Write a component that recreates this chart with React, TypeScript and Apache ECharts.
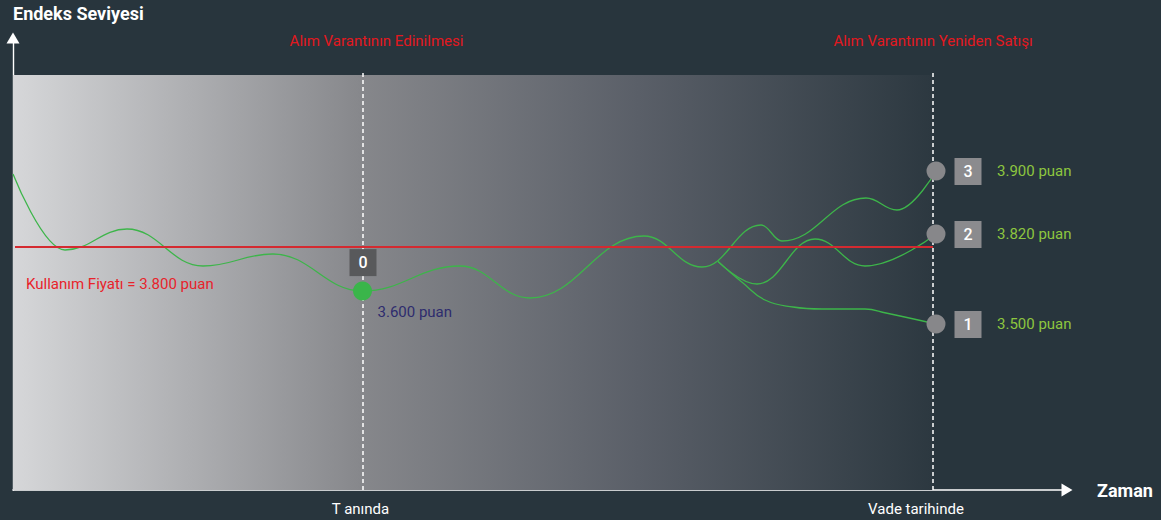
import React, { useEffect, useRef } from "react";
import * as echarts from "echarts";

// ---- data (schematic units: time along x, index level along y) ----
const timeMax = 1054;
const levelMax = 452;

// simulated index path up to scenario 3 (peaks and troughs)
const pathTime = [0, 52, 114, 190, 260, 349.5, 447, 517, 631, 689, 748, 769, 853, 884, 923];
const pathLevel = [316, 240, 261, 224, 236, 199, 224, 192, 254, 223, 265, 249, 292, 280, 319];

// scenario 2 branch
const scen2Time = [705, 744, 802, 852, 923];
const scen2Level = [228.6, 206, 251, 224, 256];

// scenario 1 branch
const scen1Time = [705, 730, 752, 780, 809, 852, 873, 923];
const scen1Level = [228.6, 207, 190, 183, 181, 181, 177, 166];

// purchase point
const startTime = 349.5;
const startLevel = 199;
const startNumber = "0";
const startValueLabel = "3.600 puan";

// resale points (scenario 3, 2, 1)
const endTime = [923, 923, 923];
const endLevel = [319, 256, 166];
const endNumbers = ["3", "2", "1"];
const endValueLabels = ["3.900 puan", "3.820 puan", "3.500 puan"];

// strike
const strikeLevel = 243;
const strikeLabel = "Kullanım Fiyatı = 3.800 puan";

// events
const eventTimes = [349.5, 920];
const eventTopLabels = ["Alım Varantının Edinilmesi", "Alım Varantının Yeniden Satışı"];
const eventBottomLabels = ["T anında", "Vade tarihinde"];

const areaTop = 415;

const BG = "#28353d";
const GREEN = "#3db54a";
const LIME = "#8dc63f";
const RED = "#e3181f";
const SANS = "Roboto, 'Noto Sans', sans-serif";

export default function App() {
  const ref = useRef<HTMLDivElement>(null);
  useEffect(() => {
    document.body.style.margin = "0";
    document.body.style.background = BG;
    const chart = echarts.init(ref.current!, null, { renderer: "svg" });

    const lineSeries = (name: string, t: number[], v: number[], monotone: boolean) => ({
      name,
      type: "line",
      data: t.map((x, i) => [x, v[i]]),
      smooth: monotone ? 0.42 : 0.45,
      smoothMonotone: monotone ? "x" : undefined,
      showSymbol: false,
      symbol: "none",
      silent: true,
      lineStyle: { color: GREEN, width: 1.3 },
      z: 3,
    });

    const option = {
      animation: false,
      backgroundColor: BG,
      grid: { left: 13, right: 94, top: 38, bottom: 30 },
      xAxis: {
        type: "value",
        min: 0,
        max: timeMax,
        name: "Zaman",
        nameLocation: "end",
        nameGap: 30,
        nameTextStyle: {
          color: "#ffffff",
          fontWeight: "bold",
          fontSize: 18,
          fontFamily: SANS,
          align: "left",
          verticalAlign: "middle",
        },
        axisLine: {
          show: true,
          onZero: false,
          symbol: ["none", "triangle"],
          symbolSize: [13, 11],
          lineStyle: { color: "#ffffff", width: 1.6 },
        },
        axisTick: { show: false },
        axisLabel: { show: false },
        splitLine: { show: false },
      },
      yAxis: {
        type: "value",
        min: 0,
        max: levelMax,
        name: "Endeks Seviyesi",
        nameLocation: "end",
        nameGap: 25,
        nameTextStyle: {
          color: "#ffffff",
          fontWeight: "bold",
          fontSize: 18,
          fontFamily: SANS,
          align: "left",
          verticalAlign: "middle",
        },
        axisLine: {
          show: true,
          onZero: false,
          symbol: ["none", "triangle"],
          symbolSize: [13, 11],
          lineStyle: { color: "#ffffff", width: 1.4 },
        },
        axisTick: { show: false },
        axisLabel: { show: false },
        splitLine: { show: false },
      },
      graphic: [
        ...eventTopLabels.map((txt, i) => ({
          type: "text",
          z: 20,
          x: [376.5, 933][i],
          y: 41,
          style: {
            text: txt,
            fill: RED,
            font: `15px ${SANS}`,
            align: "center",
            verticalAlign: "middle",
          },
        })),
        ...eventBottomLabels.map((txt, i) => ({
          type: "text",
          z: 20,
          x: [360.5, 916][i],
          y: 509,
          style: {
            text: txt,
            fill: "#ffffff",
            font: `15px ${SANS}`,
            align: "center",
            verticalAlign: "middle",
          },
        })),
        {
          type: "text",
          z: 20,
          x: 26,
          y: 284,
          style: {
            text: strikeLabel,
            fill: "#e8232b",
            font: `15px ${SANS}`,
            align: "left",
            verticalAlign: "middle",
          },
        },
      ],
      series: [
        {
          name: "bg",
          type: "line",
          data: [],
          silent: true,
          z: 1,
          markArea: {
            silent: true,
            itemStyle: {
              color: new echarts.graphic.LinearGradient(0, 0, 1, 0, [
                { offset: 0, color: "#d6d7d9" },
                { offset: 0.38, color: "#86878b" },
                { offset: 0.68, color: "#5a5f68" },
                { offset: 1, color: "#2c3840" },
              ]),
            },
            data: [[{ coord: [0, 0] }, { coord: [eventTimes[1], areaTop] }]],
          },
          markLine: {
            silent: true,
            symbol: ["none", "none"],
            label: { show: false },
            lineStyle: { color: "#ffffff", type: [4, 3], width: 1.5 },
            data: eventTimes.map((t) => [{ coord: [t, 0] }, { coord: [t, areaTop + 4] }]),
          },
        },
        {
          name: "strike",
          type: "line",
          data: [],
          silent: true,
          z: 2,
          markLine: {
            silent: true,
            symbol: ["none", "none"],
            label: { show: false },
            lineStyle: { color: "#d42a30", type: "solid", width: 1.8 },
            data: [[{ coord: [2, strikeLevel] }, { coord: [eventTimes[1], strikeLevel] }]],
          },
        },
        lineSeries("path", pathTime, pathLevel, true),
        lineSeries("scenario2", scen2Time, scen2Level, true),
        lineSeries("scenario1", scen1Time, scen1Level, false),
        {
          name: "endPoints",
          type: "scatter",
          data: endTime.map((t, i) => [t, endLevel[i]]),
          symbol: "circle",
          symbolSize: 19,
          silent: true,
          itemStyle: { color: "#87878a", opacity: 1 },
          label: {
            show: true,
            position: "right",
            distance: 51.5,
            formatter: (p: any) => endValueLabels[p.dataIndex],
            color: LIME,
            fontSize: 15,
            fontFamily: SANS,
          },
          z: 5,
        },
        {
          name: "endBoxes",
          type: "scatter",
          data: endTime.map((t, i) => [t, endLevel[i]]),
          symbol: "rect",
          symbolSize: 27,
          symbolOffset: [32, 0.5],
          silent: true,
          itemStyle: { color: "#8b8b8e", opacity: 1 },
          label: {
            show: true,
            position: "inside",
            formatter: (p: any) => endNumbers[p.dataIndex],
            color: "#ffffff",
            fontSize: 16,
            fontWeight: 500,
            fontFamily: SANS,
          },
          z: 5,
        },
        {
          name: "startPoint",
          type: "scatter",
          data: [[startTime, startLevel]],
          symbol: "circle",
          symbolSize: 19,
          silent: true,
          itemStyle: { color: "#3ab54a", opacity: 1 },
          label: {
            show: true,
            position: [24.5, 30.5],
            align: "left",
            verticalAlign: "middle",
            formatter: () => startValueLabel,
            color: "#2e2c6e",
            fontSize: 15,
            fontFamily: SANS,
          },
          z: 5,
        },
        {
          name: "startBox",
          type: "scatter",
          data: [[startTime, startLevel]],
          symbol: "rect",
          symbolSize: 27,
          symbolOffset: [0.5, -28.4],
          silent: true,
          itemStyle: { color: "#58595b", opacity: 1 },
          label: {
            show: true,
            position: "inside",
            formatter: () => startNumber,
            color: "#ffffff",
            fontSize: 16,
            fontWeight: 500,
            fontFamily: SANS,
          },
          z: 5,
        },
      ],
    };

    chart.setOption(option as any);
    return () => chart.dispose();
  }, []);
  return <div ref={ref} style={{ width: 1161, height: 520 }} />;
}
